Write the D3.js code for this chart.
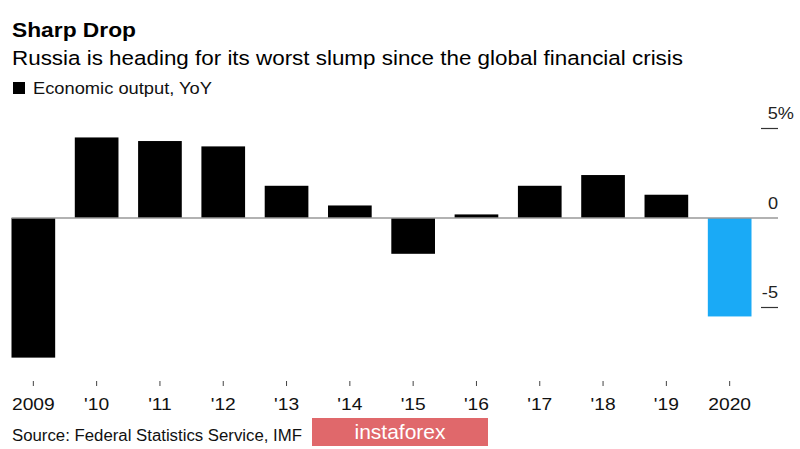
<!DOCTYPE html>
<html><head><meta charset="utf-8">
<script src="https://cdn.jsdelivr.net/npm/d3@7"></script>
<style>body{margin:0;background:#fff;}svg{display:block;font-family:"Liberation Sans",Arial,sans-serif;}</style>
</head><body>
<svg id="c" width="800" height="449"></svg>
<script>
const years = ["2009","'10","'11","'12","'13","'14","'15","'16","'17","'18","'19","2020"];
const values = [-7.8, 4.5, 4.3, 4.0, 1.8, 0.7, -2.0, 0.2, 1.8, 2.4, 1.3, -5.5];
const yTicks = [5, 0, -5];
const yTickLabels = ["5%", "0", "-5"];

const svg = d3.select("#c");
const x = d3.scaleBand().domain(years).range([2, 761]).paddingInner(0.31).paddingOuter(0.15);
const y = d3.scaleLinear().domain([-5, 5]).range([307.5, 128.5]);

function widen(sel, k){
  sel.each(function(){
    const w = this.getComputedTextLength();
    d3.select(this).attr("textLength", w*k).attr("lengthAdjust","spacingAndGlyphs");
  });
  return sel;
}

// title
svg.append("text").attr("x",12).attr("y",37).attr("font-size",20.5).attr("font-weight","bold").attr("fill","#000").text("Sharp Drop")
  .attr("textLength",124).attr("lengthAdjust","spacingAndGlyphs");
svg.append("text").attr("x",12).attr("y",65).attr("font-size",20.5).attr("fill","#000").text("Russia is heading for its worst slump since the global financial crisis")
  .attr("textLength",671).attr("lengthAdjust","spacingAndGlyphs");
svg.append("rect").attr("x",13).attr("y",82).attr("width",12).attr("height",12).attr("fill","#000");
svg.append("text").attr("x",33).attr("y",94).attr("font-size",17).attr("fill","#111").text("Economic output, YoY")
  .attr("textLength",179).attr("lengthAdjust","spacingAndGlyphs");

// bars
svg.selectAll("rect.bar").data(values).enter().append("rect").attr("class","bar")
  .attr("x",(d,i)=>x(years[i]))
  .attr("width",x.bandwidth())
  .attr("y",d=>y(Math.max(0,d)))
  .attr("height",d=>Math.abs(y(d)-y(0)))
  .attr("fill",(d,i)=>i===years.length-1?"#1aaaf6":"#000");

// zero line
svg.append("line").attr("x1",x(years[0])).attr("x2",778).attr("y1",y(0)).attr("y2",y(0)).attr("stroke","#999").attr("stroke-width",1.5);

// y ticks
yTicks.forEach((t,i)=>{
  if(t!==0) svg.append("line").attr("x1",761).attr("x2",778).attr("y1",y(t)).attr("y2",y(t)).attr("stroke","#333").attr("stroke-width",1.2);
  widen(svg.append("text").attr("x", t===5?794:778).attr("y",y(t)-9.5).attr("text-anchor","end").attr("font-size",16.5).attr("fill","#222").text(yTickLabels[i]), 1.1);
});

// x axis
const xa = svg.append("g").attr("transform","translate(0,381)")
  .call(d3.axisBottom(x).tickSize(5).tickSizeOuter(0).tickPadding(12));
xa.select(".domain").remove();
xa.selectAll(".tick line").attr("stroke","#444");
xa.selectAll(".tick text").attr("font-size",17).attr("fill","#111").attr("font-family","Liberation Sans, Arial, sans-serif");
widen(xa.selectAll(".tick text"), 1.13);

// source
svg.append("text").attr("x",12).attr("y",441).attr("font-size",16).attr("fill","#111").text("Source: Federal Statistics Service, IMF")
  .attr("textLength",290).attr("lengthAdjust","spacingAndGlyphs");

// watermark
svg.append("rect").attr("x",312).attr("y",418).attr("width",176).attr("height",28).attr("fill","#e0686b");
svg.append("text").attr("x",400).attr("y",439).attr("text-anchor","middle").attr("font-size",21).attr("fill","#fff").text("instaforex");
</script>
</body></html>
